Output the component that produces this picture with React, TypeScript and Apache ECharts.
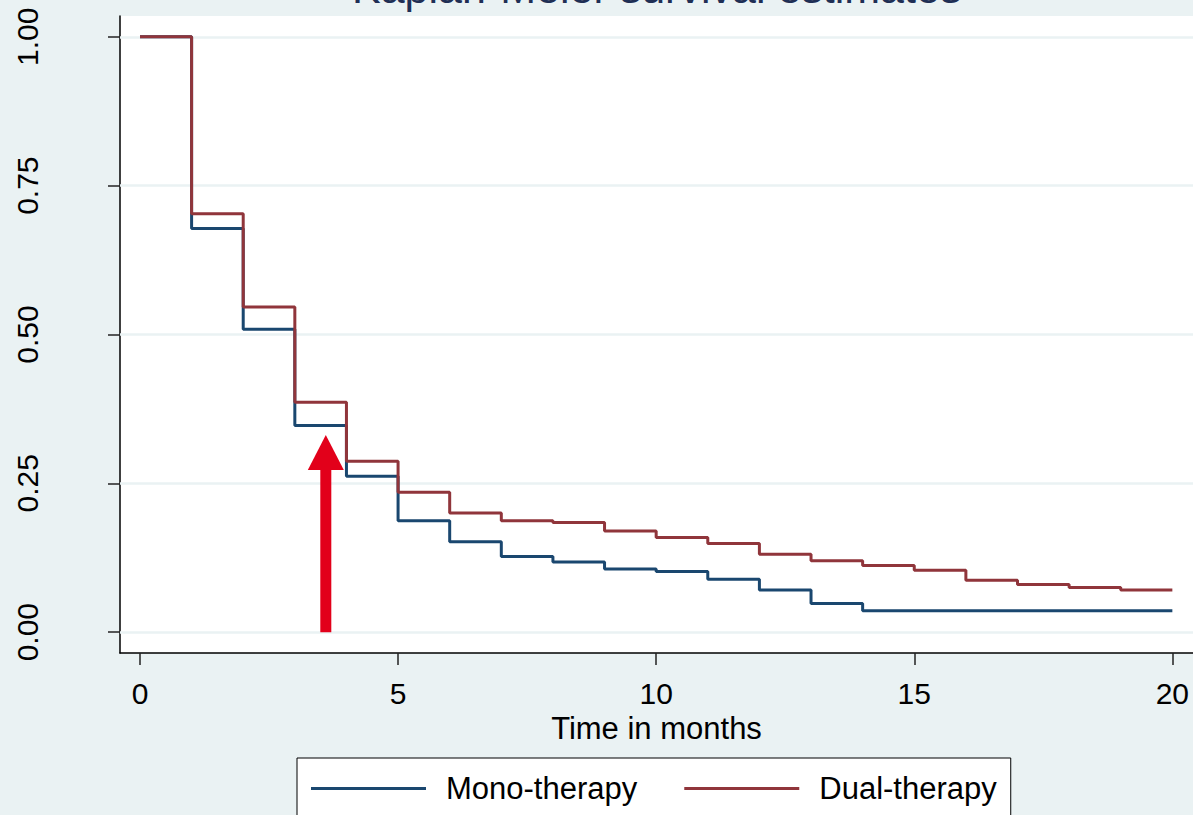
import React, { useEffect, useRef } from "react";
import * as echarts from "echarts";

const months = [0, 1, 2, 3, 4, 5, 6, 7, 8, 9, 10, 11, 12, 13, 14, 15, 16, 17, 18, 19, 20];
const monoSurvival = [1.0, 0.678, 0.509, 0.347, 0.262, 0.187, 0.152, 0.127, 0.118, 0.106, 0.102, 0.089, 0.071, 0.048, 0.036, 0.036, 0.036, 0.036, 0.036, 0.036, 0.036];
const dualSurvival = [1.0, 0.703, 0.546, 0.386, 0.287, 0.235, 0.2, 0.187, 0.184, 0.17, 0.159, 0.149, 0.131, 0.12, 0.112, 0.104, 0.087, 0.08, 0.075, 0.071, 0.071];
const xTicks = [0, 5, 10, 15, 20];
const yTicks = [0, 0.25, 0.5, 0.75, 1];
const seriesNames = ["Mono-therapy", "Dual-therapy"];
// arrow annotation: [x, yStart, yTip]
const arrowAnnotation = [[3.6, 0, 0.331]];

const FONT = "'Liberation Sans', Arial, sans-serif";
const BG = "#EAF2F3";

export default function App() {
  const ref = useRef<HTMLDivElement>(null);
  useEffect(() => {
    if (!ref.current) return;
    const chart = echarts.init(ref.current, null, { renderer: "svg" });
    const option: any = {
      animation: false,
      backgroundColor: BG,
      textStyle: { fontFamily: FONT },
      title: {
        text: "Kaplan-Meier survival estimates",
        left: 352,
        top: -34,
        padding: 0,
        textStyle: { fontFamily: FONT, fontSize: 43, fontWeight: "normal", color: "#1F2F55" },
      },
      grid: {
        left: 120,
        top: 16,
        right: 0,
        bottom: 162,
        show: true,
        backgroundColor: "#ffffff",
        borderWidth: 0,
        containLabel: false,
      },
      legend: {
        data: seriesNames.map((n) => ({ name: n, icon: "rect" })),
        left: 297,
        top: 758,
        orient: "horizontal",
        itemWidth: 115,
        itemHeight: 3,
        itemGap: 47,
        padding: [15, 14, 40, 14],
        backgroundColor: "#ffffff",
        borderColor: "#000000",
        borderWidth: 1,
        borderRadius: 0,
        textStyle: { fontFamily: FONT, fontSize: 31, color: "#000", padding: [0, 0, 0, 15] },
      },
      xAxis: {
        type: "value",
        min: -0.387,
        max: 20.4,
        name: "Time in months",
        nameLocation: "middle",
        nameGap: 51,
        nameTextStyle: { fontFamily: FONT, fontSize: 31, color: "#000" },
        axisLine: { show: true, onZero: false, lineStyle: { color: "#000", width: 1.5 } },
        axisTick: { show: true, length: 12, customValues: xTicks, lineStyle: { color: "#222", width: 1.5 } },
        axisLabel: { show: true, customValues: xTicks, margin: 25, fontFamily: FONT, fontSize: 30, color: "#000" },
        splitLine: { show: false },
      },
      yAxis: {
        type: "value",
        min: -0.035,
        max: 1.035,
        axisLine: { show: true, onZero: false, lineStyle: { color: "#000", width: 1.5 } },
        axisTick: { show: true, length: 12, customValues: yTicks, lineStyle: { color: "#222", width: 1.5 } },
        axisLabel: {
          show: true,
          customValues: yTicks,
          rotate: 90,
          margin: 78,
          fontFamily: FONT,
          fontSize: 30,
          color: "#000",
          formatter: (v: number) => v.toFixed(2),
        },
        splitLine: { show: false },
      },
      series: [
        {
          type: "line",
          name: "__grid",
          data: [],
          z: 1,
          silent: true,
          markLine: {
            z: 1,
            silent: true,
            symbol: "none",
            label: { show: false },
            lineStyle: { color: BG, width: 2.5, type: "solid" },
            emphasis: { disabled: true },
            data: yTicks.map((v) => ({ yAxis: v })),
          },
        },
        {
          type: "line",
          name: seriesNames[0],
          data: months.map((m, i) => [m, monoSurvival[i]]),
          step: "end",
          symbol: "none",
          z: 3,
          color: "#1A476F",
          itemStyle: { color: "#1A476F" },
          lineStyle: { color: "#1A476F", width: 3 },
        },
        {
          type: "line",
          name: seriesNames[1],
          data: months.map((m, i) => [m, dualSurvival[i]]),
          step: "end",
          symbol: "none",
          z: 4,
          color: "#90353B",
          itemStyle: { color: "#90353B" },
          lineStyle: { color: "#90353B", width: 3 },
        },
        {
          type: "custom",
          name: "__arrow",
          silent: true,
          z: 5,
          data: arrowAnnotation,
          encode: { x: 0, y: [1, 2] },
          renderItem: (params: any, api: any) => {
            const base = api.coord([api.value(0), api.value(1)]);
            const tip = api.coord([api.value(0), api.value(2)]);
            const headLen = 35;
            const headHalf = 18;
            const shaftHalf = 5.5;
            const cx = base[0];
            return {
              type: "group",
              children: [
                {
                  type: "rect",
                  shape: { x: cx - shaftHalf, y: tip[1] + headLen - 1, width: shaftHalf * 2, height: base[1] - tip[1] - headLen + 1 },
                  style: { fill: "#E2001A" },
                },
                {
                  type: "polygon",
                  shape: { points: [[cx - headHalf, tip[1] + headLen], [cx + headHalf, tip[1] + headLen], [cx, tip[1]]] },
                  style: { fill: "#E2001A" },
                },
              ],
            };
          },
        },
      ],
    };
    chart.setOption(option);
    return () => chart.dispose();
  }, []);
  return <div ref={ref} style={{ position: "fixed", left: 0, top: 0, width: 1193, height: 815 }} />;
}
